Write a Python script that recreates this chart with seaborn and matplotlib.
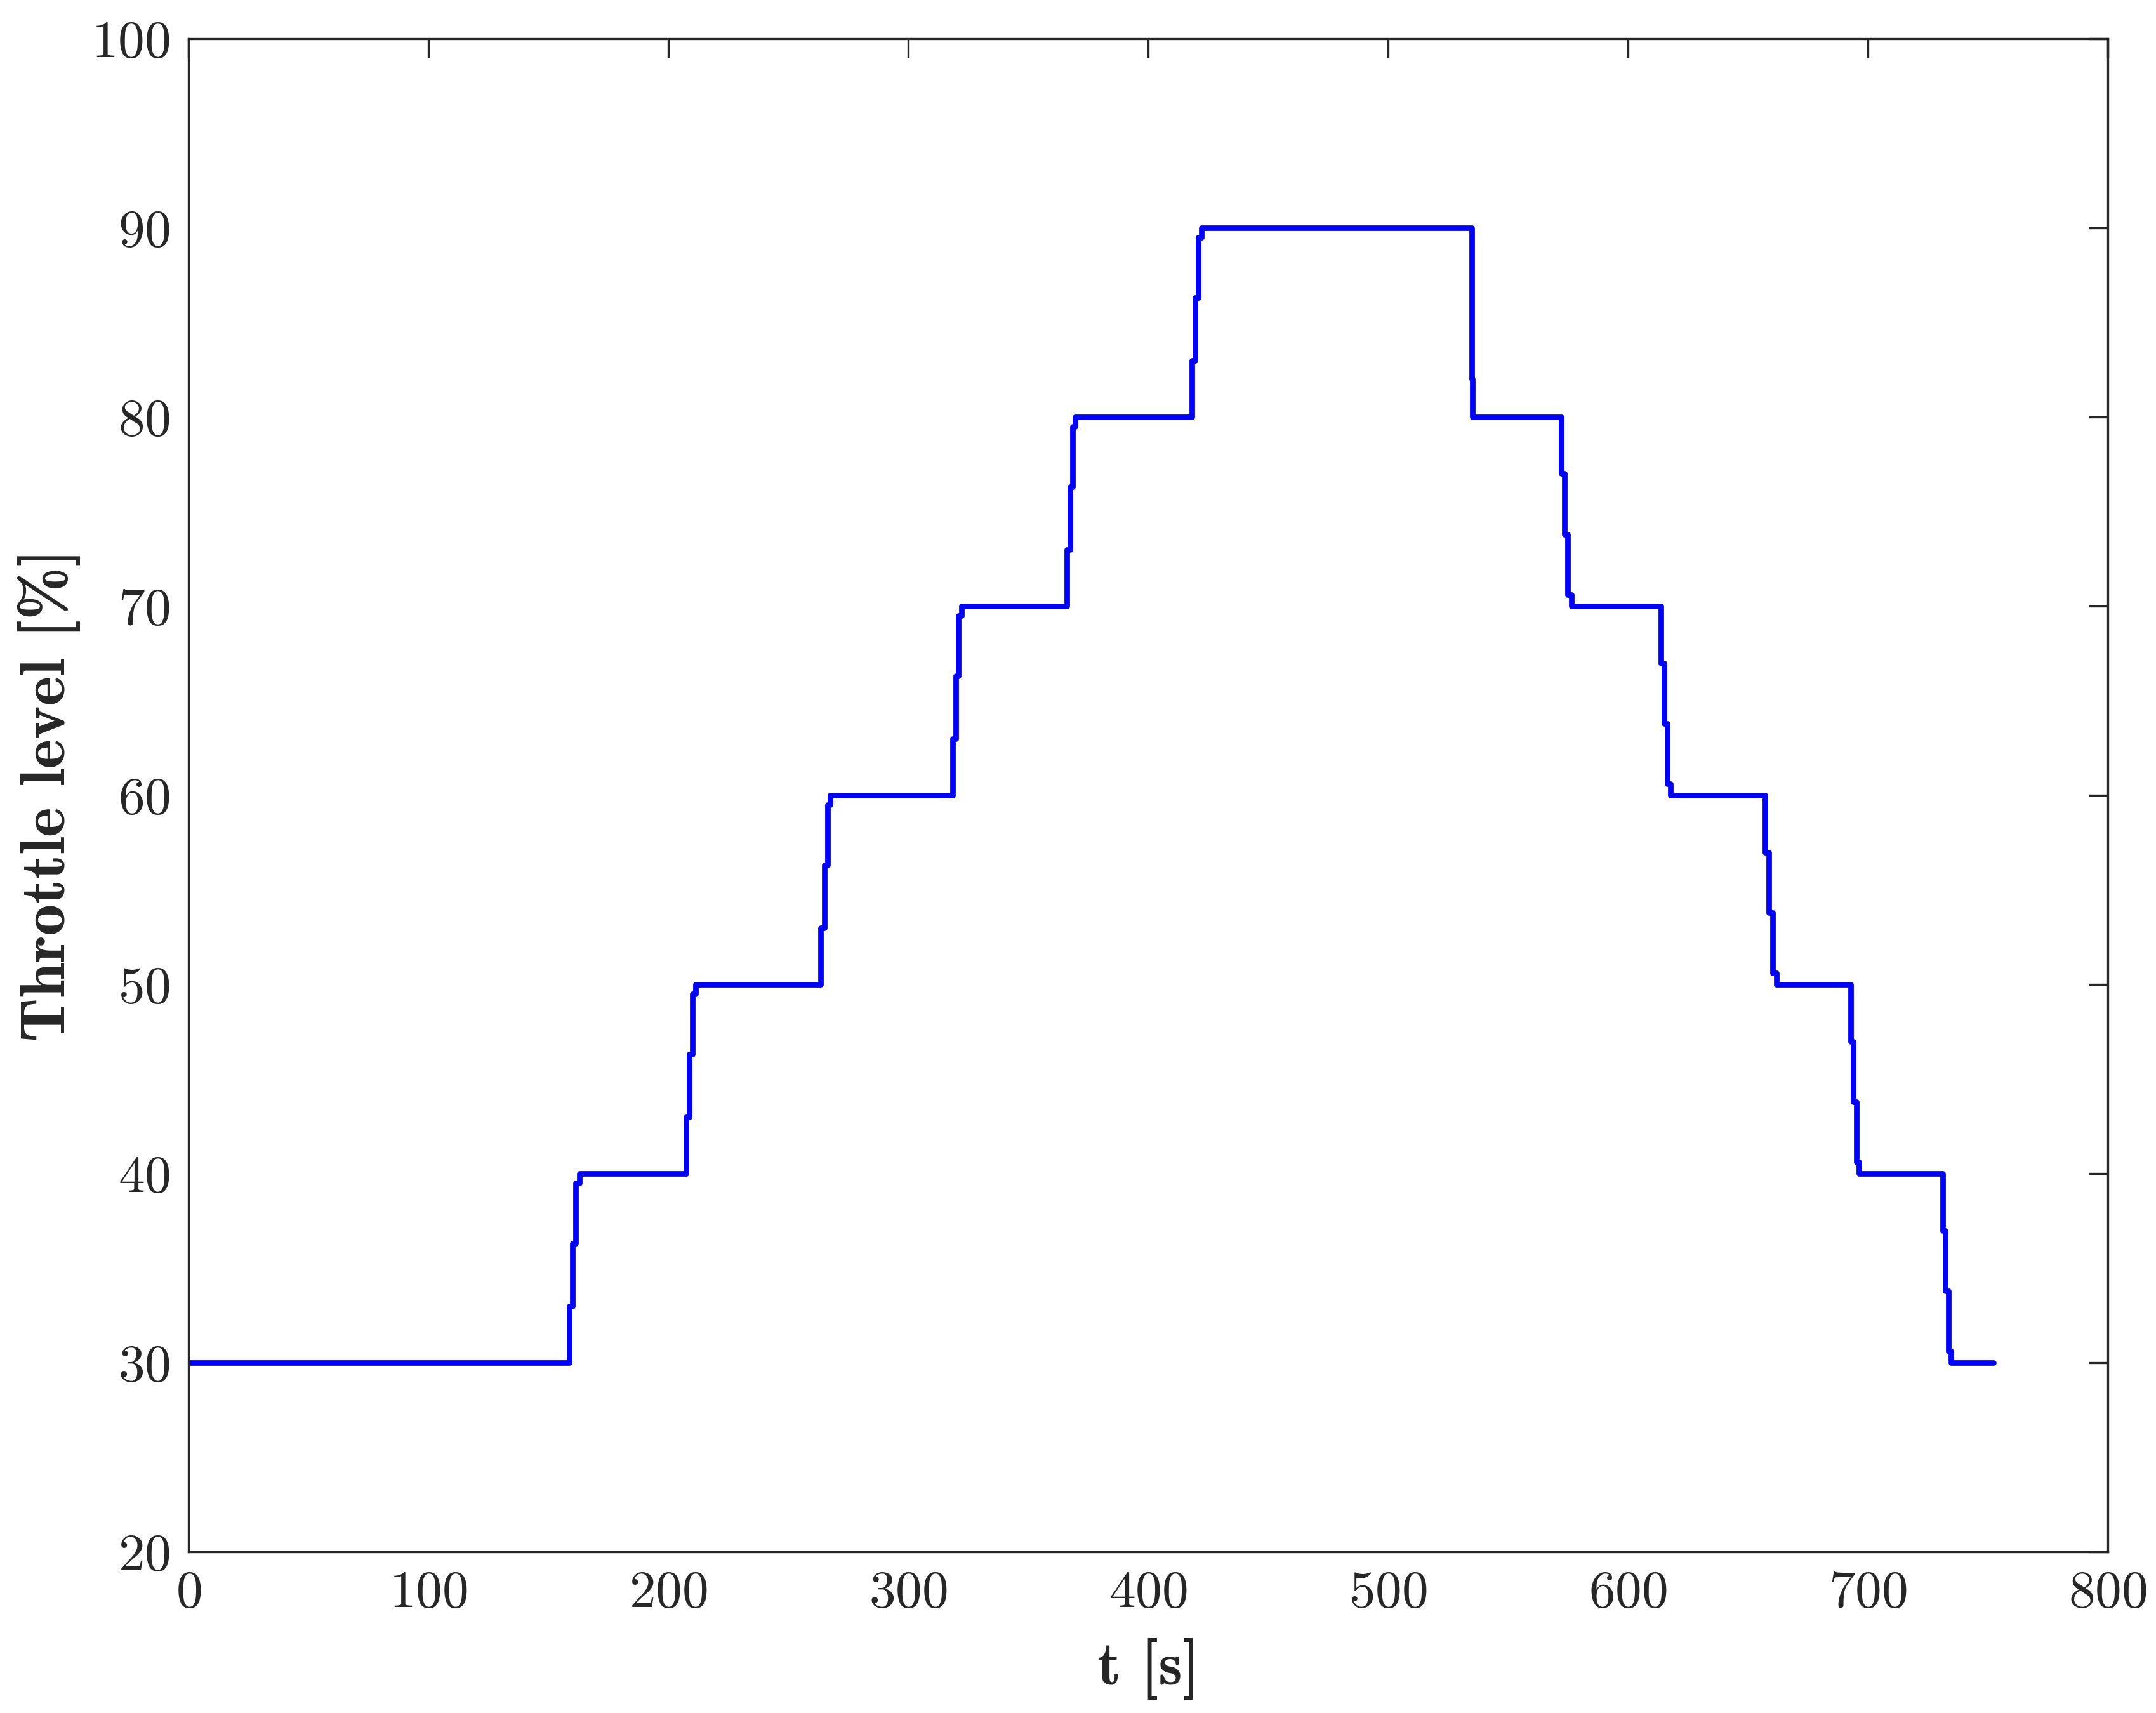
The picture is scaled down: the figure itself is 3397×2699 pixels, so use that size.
# Throttle level step profile vs time
import numpy as np
import pandas as pd
import matplotlib
matplotlib.use('Agg')
import matplotlib.pyplot as plt
import seaborn as sns

# step change points (time [s], throttle level [%])
t_steps = [0.0,
           158.7, 160.1, 161.5, 163.0,
           207.4, 208.8, 210.1, 211.5,
           263.6, 265.0, 266.3, 267.6,
           318.6, 319.8, 321.0, 322.2,
           366.2, 367.4, 368.5, 369.7,
           418.3, 419.6, 421.0, 422.3,
           534.9, 535.3,
           572.2, 573.6, 575.0, 576.4,
           613.8, 615.1, 616.5, 617.8,
           657.3, 658.8, 660.3, 661.8,
           692.8, 694.0, 695.2, 696.4,
           731.2, 732.4, 733.6, 734.8,
           752.4]
throttle = [30,
            33, 36.3, 39.5, 40,
            43, 46.3, 49.5, 50,
            53, 56.3, 59.5, 60,
            63, 66.3, 69.5, 70,
            73, 76.3, 79.5, 80,
            83, 86.3, 89.5, 90,
            82, 80,
            77, 73.8, 70.6, 70,
            67, 63.8, 60.6, 60,
            57, 53.8, 50.6, 50,
            47, 43.8, 40.6, 40,
            37, 33.8, 30.6, 30,
            30]

x_ticks = [0, 100, 200, 300, 400, 500, 600, 700, 800]
y_ticks = [20, 30, 40, 50, 60, 70, 80, 90, 100]

df = pd.DataFrame({'t': t_steps, 'throttle': throttle})

sns.set_style('white')
plt.rcParams['font.family'] = 'serif'
plt.rcParams['font.serif'] = ['cmr10']
plt.rcParams['mathtext.fontset'] = 'cm'
plt.rcParams['axes.formatter.use_mathtext'] = True
dark = '#262626'

fig = plt.figure(figsize=(3397 / 300, 2699 / 300), dpi=300)
ax = fig.add_axes([0.0874, 0.0940, 0.8902, 0.8834])

sns.lineplot(data=df, x='t', y='throttle', ax=ax, color='#0000ff', linewidth=2.1,
             estimator=None, sort=False, drawstyle='steps-post')

ax.set_xlim(0, 800)
ax.set_ylim(20, 100)
ax.set_xticks(x_ticks)
ax.set_yticks(y_ticks)
ax.tick_params(direction='in', length=7.3, width=0.8, colors=dark, labelsize=20,
               top=True, right=True, pad=7)
for s in ax.spines.values():
    s.set_visible(True)
    s.set_color(dark)
    s.set_linewidth(0.8)

ax.set_xlabel('t [s]', fontfamily='cmb10', fontsize=23, color=dark, labelpad=8)
ax.set_ylabel('Throttle level [%]', fontfamily='cmb10', fontsize=24, color=dark, labelpad=4)

fig.savefig('out.png', dpi=300)
